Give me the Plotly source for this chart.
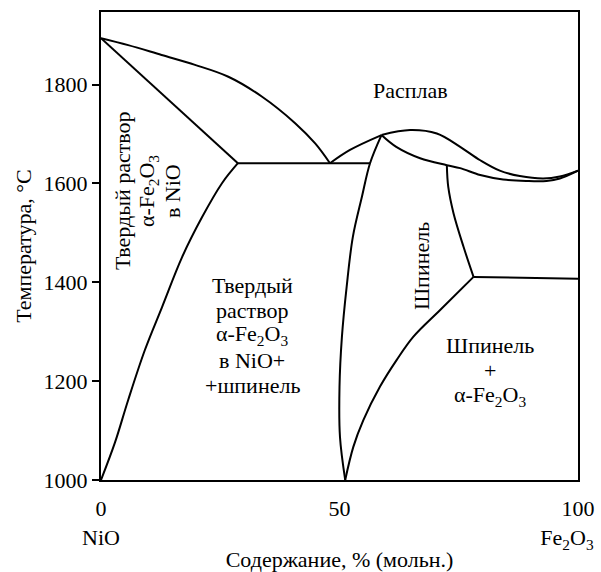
import plotly.graph_objects as go

# ---- data (composition, mol% Fe2O3 ; temperature, °C) ----
liq_left_x = [0, 5.7, 12.7, 19.7, 26.7, 33.7, 40.7, 44.9, 48.0]
liq_left_t = [1894, 1880, 1860, 1840, 1816, 1776, 1722, 1681, 1641]

sol_left_x = [0, 28.7]
sol_left_t = [1894, 1641]

eut_x = [28.7, 56.4]
eut_t = [1641, 1641]

solvus_left_x = [28.7, 25.4, 21.2, 17.0, 12.8, 9.2, 5.7, 2.9, 0]
solvus_left_t = [1641, 1601, 1532, 1451, 1350, 1263, 1162, 1075, 1000]

liq_mid_x = [48.0, 52.2, 58.8]
liq_mid_t = [1641, 1668, 1698]

liq_right_x = [58.8, 64.8, 70.4, 75.3, 79.5, 83.6, 87.8, 92.7, 96.2, 100]
liq_right_t = [1698, 1708, 1701, 1674, 1647, 1626, 1615, 1610, 1614, 1626]

sol_right_x = [58.8, 61.9, 66.9, 72.5, 75.3, 79.5, 84.3, 89.2, 93.4, 96.2, 100]
sol_right_t = [1698, 1674, 1651, 1637, 1631, 1617, 1608, 1605, 1605, 1610, 1626]

spin_left_x = [58.8, 56.4, 54.7, 52.8, 51.5, 50.5, 50.0, 50.1, 51.2]
spin_left_t = [1698, 1641, 1573, 1492, 1391, 1289, 1188, 1087, 1000]

spin_right_up_x = [72.5, 72.8, 73.9, 76.0, 78.1]
spin_right_up_t = [1637, 1593, 1540, 1472, 1411]

hem_line_x = [78.1, 100]
hem_line_t = [1411, 1407]

spin_right_low_x = [78.1, 71.1, 65.5, 62.0, 58.5, 55.0, 52.9, 51.2]
spin_right_low_t = [1411, 1344, 1290, 1243, 1189, 1121, 1067, 1000]

x_tick_vals = [0, 50, 100]
x_tick_text = ["0<br>NiO", "50",
               "100<br>Fe<sub>2</sub>O<sub>3</sub>&nbsp;&nbsp;&nbsp;&nbsp;"]
y_tick_vals = [1000, 1200, 1400, 1600, 1800]

FONT = '"Liberation Serif", "Times New Roman", serif'
FS = 22
BLACK = "#000000"

curves = [
    (liq_left_x, liq_left_t, "spline"),
    (sol_left_x, sol_left_t, "linear"),
    (eut_x, eut_t, "linear"),
    (solvus_left_x, solvus_left_t, "spline"),
    (liq_mid_x, liq_mid_t, "spline"),
    (liq_right_x, liq_right_t, "spline"),
    (sol_right_x, sol_right_t, "spline"),
    (spin_left_x, spin_left_t, "spline"),
    (spin_right_up_x, spin_right_up_t, "spline"),
    (hem_line_x, hem_line_t, "linear"),
    (spin_right_low_x, spin_right_low_t, "spline"),
]

fig = go.Figure()
for xs, ts, shape in curves:
    fig.add_trace(go.Scatter(x=xs, y=ts, mode="lines",
                             line=dict(color=BLACK, width=2, shape=shape),
                             hoverinfo="skip", showlegend=False, cliponaxis=False))

FE2O3 = "α-Fe<sub>2</sub>O<sub>3</sub>"
# (x, y, lines, angle, line spacing in px)
labels = [
    (64.8, 1789, ["Расплав"], 0, 0),
    (9.9, 1585, ["Твердый раствор", FE2O3, "в NiO"], -90, 25),
    (31.7, 1293, ["Твердый", "раствор", FE2O3, "в NiO+", "+шпинель"], 0, 25),
    (67.1, 1433, ["Шпинель"], -90, 0),
    (81.6, 1221, ["Шпинель", "+", FE2O3], 0, 25),
]
for x, y, lines, ang, sp in labels:
    n = len(lines)
    for i, txt in enumerate(lines):
        off = (i - (n - 1) / 2) * sp
        kw = dict(xshift=off) if ang == -90 else dict(yshift=-off)
        fig.add_annotation(x=x, y=y, text=txt, textangle=ang, showarrow=False,
                           font=dict(family=FONT, size=FS, color=BLACK), **kw)

fig.update_layout(
    width=601, height=572,
    margin=dict(l=101, r=23, t=12, b=92),
    paper_bgcolor="white", plot_bgcolor="white",
    font=dict(family=FONT, size=FS, color=BLACK),
    showlegend=False,
)
fig.update_xaxes(range=[0, 100], tickvals=x_tick_vals, ticktext=x_tick_text,
                 ticks="", showgrid=False, zeroline=False, ticklabeloverflow="allow",
                 automargin=False, ticklabelstandoff=8,
                 showline=True, linecolor=BLACK, linewidth=2, mirror=True,
                 title=dict(text="Содержание, % (мольн.)",
                            font=dict(family=FONT, size=FS, color=BLACK), standoff=4),
                 tickfont=dict(family=FONT, size=FS, color=BLACK))
fig.update_yaxes(range=[1000, 1947], tickvals=y_tick_vals,
                 ticks="outside", ticklen=7, tickwidth=2, tickcolor=BLACK,
                 showgrid=False, zeroline=False, automargin=False,
                 showline=True, linecolor=BLACK, linewidth=2, mirror=True,
                 title=dict(text="Температура, °C",
                            font=dict(family=FONT, size=FS, color=BLACK), standoff=6),
                 tickfont=dict(family=FONT, size=FS, color=BLACK))

fig.write_html("out.html")
